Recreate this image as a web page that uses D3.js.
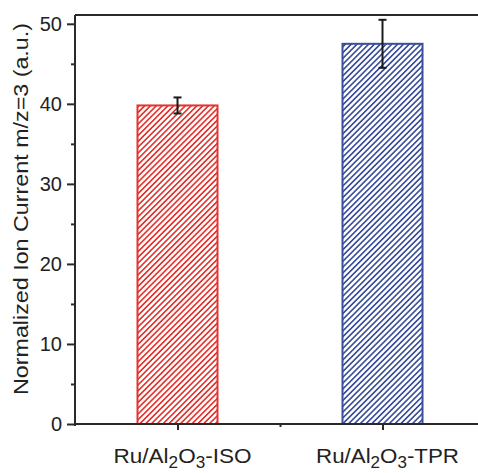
<!DOCTYPE html>
<html>
<head>
<meta charset="utf-8">
<script src="https://cdn.jsdelivr.net/npm/d3@7"></script>
<style>
  html, body { margin: 0; padding: 0; background: #fff; }
  svg { display: block; font-family: "Liberation Sans", Arial, sans-serif; }
</style>
</head>
<body>
<svg id="chart" width="478" height="473"></svg>
<script>
// Samples, their mean normalized ion current (m/z=3) and error
const categories = ["ISO", "TPR"];
const positions = [1, 2];
const values = [39.8, 47.5];
const errors = [1.0, 3.0];
const colors = ["#e3342f", "#3b4f9c"];
const yTicks = [0, 10, 20, 30, 40, 50];
const yMinorTicks = [5, 15, 25, 35, 45];
const xMinorTicks = [1.5];

const W = 478, H = 473;
const margin = { left: 75, top: 15, bottom: 49 };
const x = d3.scaleLinear().domain([0.5, 2.5]).range([margin.left, 485]);
const y = d3.scaleLinear().domain([0, 51.1]).range([H - margin.bottom, margin.top]);
const barW = 0.4;
const axisColor = "#2a2a2a";
const textColor = "#222";

const svg = d3.select("#chart");
const defs = svg.append("defs");

// Diagonal hatch fill for each bar
categories.forEach((c, i) => {
  const s = 4.1;
  const p = defs.append("pattern")
    .attr("id", "hatch" + i)
    .attr("patternUnits", "userSpaceOnUse")
    .attr("width", s).attr("height", s)
    .attr("patternTransform", "rotate(45)");
  p.append("rect").attr("width", s).attr("height", s).attr("fill", "#fff");
  p.append("line")
    .attr("x1", 0).attr("y1", 0).attr("x2", 0).attr("y2", s)
    .attr("stroke", colors[i]).attr("stroke-width", 3.3);
});

// Bars
svg.append("g").selectAll("rect").data(values).join("rect")
  .attr("x", (d, i) => x(positions[i] - barW / 2) + 1)
  .attr("y", d => y(d))
  .attr("width", (d, i) => x(positions[i] + barW / 2) - x(positions[i] - barW / 2) - 2)
  .attr("height", d => y(0) - y(d))
  .attr("fill", (d, i) => `url(#hatch${i})`)
  .attr("stroke", (d, i) => colors[i])
  .attr("stroke-width", 2);

// Error bars
const eb = svg.append("g").attr("stroke", "#1a1a1a").attr("stroke-width", 2);
values.forEach((v, i) => {
  const cx = x(positions[i]);
  eb.append("line").attr("x1", cx).attr("x2", cx).attr("y1", y(v + errors[i])).attr("y2", y(v - errors[i]));
  eb.append("line").attr("x1", cx - 4).attr("x2", cx + 4).attr("y1", y(v + errors[i])).attr("y2", y(v + errors[i]));
  eb.append("line").attr("x1", cx - 4).attr("x2", cx + 4).attr("y1", y(v - errors[i])).attr("y2", y(v - errors[i]));
});

// Frame top line
svg.append("line")
  .attr("x1", margin.left).attr("x2", W)
  .attr("y1", y.range()[1]).attr("y2", y.range()[1])
  .attr("stroke", axisColor).attr("stroke-width", 2);

// Y axis
const yAxis = svg.append("g")
  .attr("transform", `translate(${margin.left},0)`)
  .call(d3.axisLeft(y).tickValues(yTicks).tickSize(8).tickPadding(5).tickFormat(d3.format("d")));
yAxis.select(".domain").attr("stroke", axisColor).attr("stroke-width", 2)
  .attr("d", `M0,${y(0) + 2}V${y.range()[1]}`);
yAxis.selectAll(".tick line").attr("stroke", axisColor).attr("stroke-width", 2);
yAxis.selectAll(".tick text").attr("font-size", 20).attr("fill", textColor)
  .attr("font-family", "Liberation Sans, Arial, sans-serif");
svg.append("g").attr("transform", `translate(${margin.left},0)`)
  .call(d3.axisLeft(y).tickValues(yMinorTicks).tickSize(4).tickFormat(""))
  .call(g => g.select(".domain").remove())
  .selectAll(".tick line").attr("stroke", axisColor).attr("stroke-width", 2);

// X axis
const xAxis = svg.append("g")
  .attr("transform", `translate(0,${y(0)})`)
  .call(d3.axisBottom(x).tickValues(positions).tickSize(6).tickFormat(""));
xAxis.select(".domain").attr("stroke", axisColor).attr("stroke-width", 2)
  .attr("d", `M${margin.left},0H${W}`);
xAxis.selectAll(".tick line").attr("stroke", axisColor).attr("stroke-width", 2);
svg.append("g").attr("transform", `translate(0,${y(0)})`)
  .call(d3.axisBottom(x).tickValues(xMinorTicks).tickSize(3).tickFormat(""))
  .call(g => g.select(".domain").remove())
  .selectAll(".tick line").attr("stroke", axisColor).attr("stroke-width", 2);

// Category labels with subscripts, set slightly wide
categories.forEach((c, i) => {
  const g = svg.append("g")
    .attr("transform", `translate(${x(positions[i]) + 5},463)`);
  const t = g.append("text")
    .attr("text-anchor", "middle")
    .attr("font-size", 21).attr("fill", textColor);
  t.append("tspan").text("Ru/Al");
  t.append("tspan").attr("font-size", 16).attr("dy", 5).text("2");
  t.append("tspan").attr("dy", -5).text("O");
  t.append("tspan").attr("font-size", 16).attr("dy", 5).text("3");
  t.append("tspan").attr("dy", -5).text("-" + c);
  const w = t.node().getBBox().width;
  const target = i === 0 ? 138 : 143;
  t.attr("transform", `scale(${target / w},1)`);
});

// Y axis title
svg.append("text")
  .attr("transform", `translate(27.5,209) rotate(-90)`)
  .attr("text-anchor", "middle")
  .attr("font-size", 20).attr("fill", textColor)
  .attr("textLength", 372).attr("lengthAdjust", "spacingAndGlyphs")
  .text("Normalized Ion Current m/z=3 (a.u.)");
</script>
</body>
</html>
